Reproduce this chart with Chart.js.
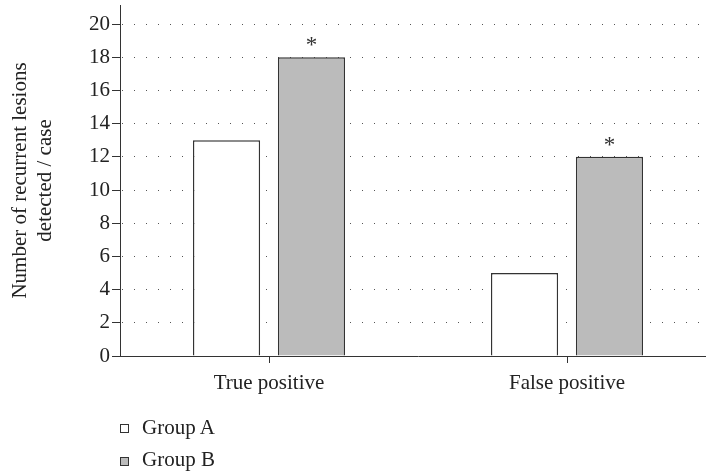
<!DOCTYPE html>
<html>
<head>
<meta charset="utf-8">
<script src="https://cdn.jsdelivr.net/npm/chart.js@4.4.0/dist/chart.umd.min.js"></script>
<style>
  html, body { margin: 0; padding: 0; background: #fff; overflow: hidden; }
  .wrap { position: relative; width: 706px; height: 472px; overflow: hidden; }
  #plot { position: absolute; left: 0; top: 0; }
  .legend-text { position: absolute; left: 142px; font: 21px "Liberation Serif", serif; color: #222; line-height: 21px; white-space: nowrap; }
  .swatch { position: absolute; left: 120px; width: 9px; height: 9px; box-sizing: border-box; border: 1px solid #333; }
</style>
</head>
<body>
<div class="wrap">
  <canvas id="plot" width="716" height="472"></canvas>
  <div id="legend"></div>
</div>
<script>
// values
const categories = ['True positive', 'False positive'];
const groupA = [13, 5];
const groupB = [18, 12];
const markB = ['*', '*']; // significance marks above Group B
const yTicks = [0, 2, 4, 6, 8, 10, 12, 14, 16, 18, 20];
const seriesNames = ['Group A', 'Group B'];
const seriesFill = ['#ffffff', '#bbbbbb'];

const FAMILY = '"Liberation Serif", "Times New Roman", serif';
const edge = '#333333';

// asterisks over the Group B bars
const starPlugin = {
  id: 'stars',
  afterDatasetsDraw(chart) {
    const ctx = chart.ctx;
    const meta = chart.getDatasetMeta(1);
    ctx.save();
    ctx.font = '23px ' + FAMILY;
    ctx.fillStyle = '#333';
    ctx.textAlign = 'center';
    ctx.textBaseline = 'alphabetic';
    meta.data.forEach((bar, i) => {
      if (markB[i]) ctx.fillText(markB[i], bar.x, bar.y - 5);
    });
    ctx.restore();
  }
};

const chart = new Chart(document.getElementById('plot'), {
  type: 'bar',
  data: {
    labels: categories,
    datasets: [groupA, groupB].map((vals, i) => ({
      label: seriesNames[i],
      data: vals,
      backgroundColor: seriesFill[i],
      borderColor: edge,
      borderWidth: 1.4,
      categoryPercentage: 0.57,
      barPercentage: 0.79
    }))
  },
  options: {
    responsive: false,
    animation: false,
    devicePixelRatio: 1,
    layout: { padding: { top: 5, left: 0, right: 0, bottom: 0 } },
    plugins: { legend: { display: false }, tooltip: { enabled: false } },
    scales: {
      x: {
        offset: true,
        grid: { offset: false, drawOnChartArea: false, tickLength: 7, tickColor: edge, lineWidth: 1 },
        border: { color: edge, width: 1 },
        ticks: { font: { family: FAMILY, size: 21 }, color: '#222', padding: 8 },
        afterFit(s) { s.height = 116; s.paddingLeft = 0; s.paddingRight = 0; }
      },
      y: {
        min: 0,
        max: 21.15,
        afterBuildTicks(s) { s.ticks = yTicks.map(v => ({ value: v })); },
        grid: {
          color: c => (c.tick && c.tick.value === 0) ? 'rgba(0,0,0,0)' : '#555',
          tickColor: edge,
          tickLength: 8,
          lineWidth: 1
        },
        border: { color: edge, width: 1, dash: [1, 11], dashOffset: 11 },
        ticks: { font: { family: FAMILY, size: 21 }, color: '#222', padding: 2 },
        title: {
          display: true,
          text: ['Number of recurrent lesions', 'detected / case'],
          font: { family: FAMILY, size: 21, lineHeight: 1.2 },
          color: '#222',
          padding: { top: 8, bottom: 0 }
        },
        afterFit(s) { s.width = 120; s.paddingTop = 0; s.paddingBottom = 0; }
      }
    }
  },
  plugins: [starPlugin]
});

// legend, stacked under the plot
const legend = document.getElementById('legend');
chart.data.datasets.forEach((ds, i) => {
  const sw = document.createElement('div');
  sw.className = 'swatch';
  sw.style.top = (424 + i * 32.5) + 'px';
  sw.style.background = ds.backgroundColor;
  legend.appendChild(sw);
  const tx = document.createElement('div');
  tx.className = 'legend-text';
  tx.style.top = (416.5 + i * 32) + 'px';
  tx.textContent = ds.label;
  legend.appendChild(tx);
});
</script>
</body>
</html>
